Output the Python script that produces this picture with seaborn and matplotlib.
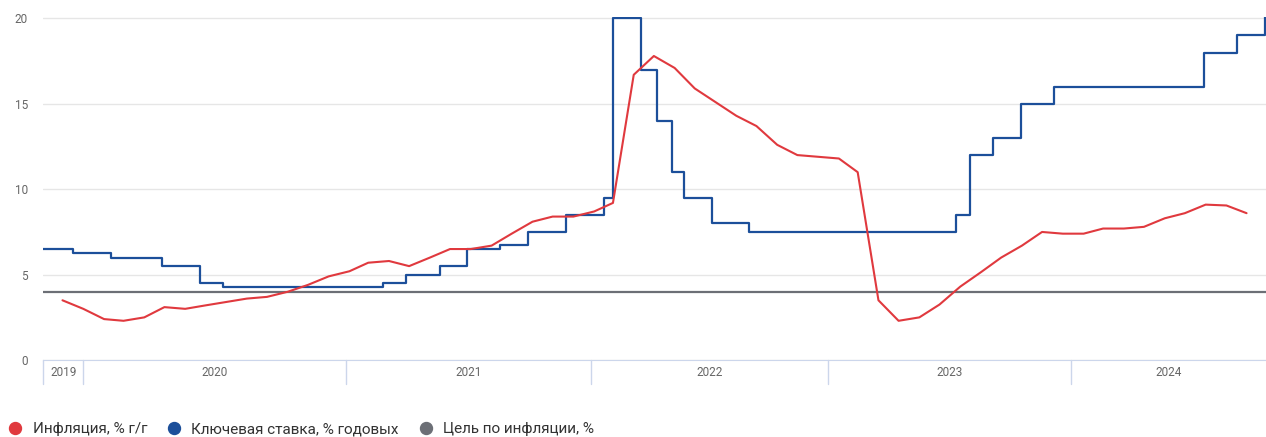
import pandas as pd
import numpy as np
import matplotlib.pyplot as plt
import matplotlib.transforms as mtransforms
from matplotlib.lines import Line2D
import seaborn as sns

# Inflation, % y/y (month-end values, Nov 2019 - Sep 2024)
infl_months = pd.date_range('2019-11-30', '2024-09-30', freq='ME')
infl_values = [3.5, 3.0,
               2.4, 2.3, 2.5, 3.1, 3.0, 3.2, 3.4, 3.6, 3.7, 4.0, 4.4, 4.9,
               5.2, 5.7, 5.8, 5.5, 6.0, 6.5, 6.5, 6.7, 7.4, 8.1, 8.4, 8.4,
               8.7, 9.2, 16.7, 17.8, 17.1, 15.9, 15.1, 14.3, 13.7, 12.6, 12.0, 11.9,
               11.8, 11.0, 3.5, 2.3, 2.5, 3.25, 4.3, 5.15, 6.0, 6.7, 7.5, 7.4,
               7.4, 7.7, 7.7, 7.8, 8.3, 8.6, 9.1, 9.05, 8.6]

# Key rate, % annual (decision dates)
rate_dates = ['2019-10-28', '2019-12-16', '2020-02-10', '2020-04-27', '2020-06-22',
              '2020-07-27', '2021-03-22', '2021-04-26', '2021-06-15', '2021-07-26',
              '2021-09-13', '2021-10-25', '2021-12-20', '2022-02-14', '2022-02-28',
              '2022-04-11', '2022-05-04', '2022-05-27', '2022-06-14', '2022-07-25',
              '2022-09-19', '2023-07-24', '2023-08-15', '2023-09-18', '2023-10-30',
              '2023-12-18', '2024-07-29', '2024-09-16', '2024-10-28', '2024-10-31']
rate_values = [6.5, 6.25, 6.0, 5.5, 4.5, 4.25, 4.5, 5.0, 5.5, 6.5,
               6.75, 7.5, 8.5, 9.5, 20.0, 17.0, 14.0, 11.0, 9.5, 8.0,
               7.5, 8.5, 12.0, 13.0, 15.0, 16.0, 18.0, 19.0, 21.0, 21.0]

target = 4.0

# year bands on the x axis (boundaries as drawn in the chart)
year_labels = ['2019', '2020', '2021', '2022', '2023', '2024']
year_edges = ['2019-11-01', '2019-12-31', '2021-01-26', '2022-01-27',
              '2023-01-15', '2024-01-12', '2024-10-29']

red = '#e0393e'
blue = '#1c4f9a'
grey = '#6c6f76'

df_infl = pd.DataFrame({'date': infl_months, 'value': infl_values})
df_rate = pd.DataFrame({'date': pd.to_datetime(rate_dates), 'value': rate_values})
edges = pd.to_datetime(year_edges)

sns.set_style('white')
plt.rcParams['font.family'] = ['Roboto', 'DejaVu Sans']

fig = plt.figure(figsize=(12.66, 4.37), dpi=100)
ax = fig.add_axes([0.034, 0.176, 0.966, 0.785])

ax.axhline(target, color=grey, lw=1.6, zorder=2)
sns.lineplot(data=df_rate, x='date', y='value', ax=ax, color=blue, lw=1.6,
             drawstyle='steps-post', zorder=3)
sns.lineplot(data=df_infl, x='date', y='value', ax=ax, color=red, lw=1.5, zorder=4)

ax.set_xlim(edges[0], edges[-1])
ax.set_ylim(0, 20.08)
ax.set_yticks([0, 5, 10, 15, 20])
ax.yaxis.grid(True, color='#e6e6e6', lw=1)
ax.set_axisbelow(True)
ax.tick_params(axis='y', length=0, pad=11, labelsize=8.5, labelcolor='#666666')
ax.set_xticks([])
ax.set_xlabel('')
ax.set_ylabel('')
for s in ['top', 'right', 'left']:
    ax.spines[s].set_visible(False)
ax.spines['bottom'].set_color('#ccd6eb')

# year separators and labels below the axis
trans = mtransforms.blended_transform_factory(ax.transData, ax.transAxes)
for e in edges[:-1]:
    ax.plot([e, e], [0, -0.07], color='#ccd6eb', lw=1, transform=trans, clip_on=False)
for i, lab in enumerate(year_labels):
    mid = edges[i] + (edges[i + 1] - edges[i]) / 2
    ax.text(mid, -0.035, lab, transform=trans, ha='center', va='center',
            fontsize=8.5, color='#666666')

handles = [Line2D([], [], marker='o', ls='', color=c, markersize=8.6)
           for c in [red, blue, grey]]
fig.legend(handles, ['Инфляция, % г/г', 'Ключевая ставка, % годовых', 'Цель по инфляции, %'],
           loc='center left', bbox_to_anchor=(-0.011, 0.018), ncol=3, frameon=False,
           fontsize=11, handletextpad=0.15, columnspacing=0.75, labelcolor='#333333')

fig.savefig('out.png', dpi=100)
